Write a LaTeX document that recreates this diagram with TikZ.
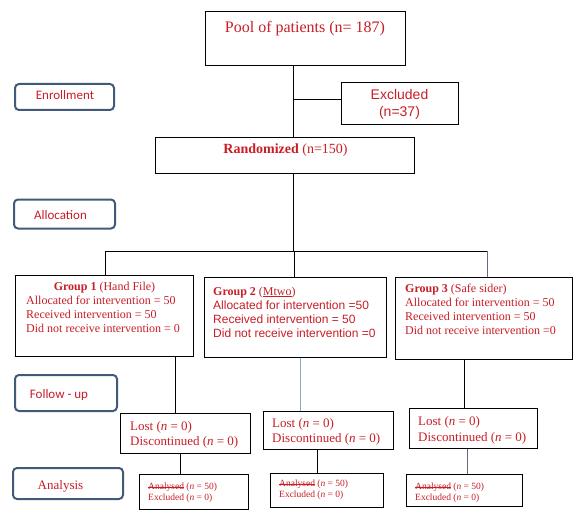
\documentclass[tikz,border=0pt]{standalone}
\usepackage{fontspec}
\setmainfont{Liberation Serif}
\setsansfont{Liberation Sans}
\newfontfamily\calibri{Carlito}
\definecolor{txtred}{RGB}{200,30,40}
\definecolor{sideblue}{RGB}{65,90,122}
\definecolor{lineblue}{RGB}{140,168,196}
\definecolor{linegray}{RGB}{95,110,125}
\newlength\mystl
\newcommand\mystrike[1]{\settowidth{\mystl}{#1}\rlap{\rule[0.27em]{\mystl}{0.5pt}}#1}
\newcommand\myunder[1]{\settowidth{\mystl}{#1}\rlap{\rule[-0.15em]{\mystl}{0.4pt}}#1}
\begin{document}
\begin{tikzpicture}[x=1pt,y=-1pt,
  box/.style={draw=black,line width=1pt,inner sep=0pt,rectangle},
  sidebox/.style={draw=sideblue,line width=2pt,rounded corners=4pt,inner sep=0pt,rectangle},
  conn/.style={draw=black,line width=1pt},
  txt/.style={text=txtred,inner sep=0pt,align=left},
  sidetxt/.style={text=txtred,inner sep=0pt,font=\calibri\fontsize{13}{15}\selectfont},
  f12/.style={font=\fontsize{12}{14}\selectfont},
  f12s/.style={font=\sffamily\fontsize{12}{14}\selectfont},
  f13/.style={font=\fontsize{13}{15}\selectfont},
  f9/.style={font=\fontsize{9.5}{11}\selectfont}]
\useasboundingbox[fill=white] (0,0) rectangle (587,519);

% side labels
\node[sidebox,minimum width=99pt,minimum height=26pt] (enr) at (64.5,97) {};
\node[sidetxt] (enrt) at (65,95) {Enrollment};
\node[sidebox,minimum width=101pt,minimum height=29pt] (alloc) at (64.5,214) {};
\node[sidetxt] (alloct) at (60.5,215) {Allocation};
\node[sidebox,minimum width=102pt,minimum height=36pt] (fol) at (66,393) {};
\node[sidetxt] (folt) at (59,395) {Follow - up};
\node[sidebox,minimum width=110pt,minimum height=31pt] (ana) at (68,483.5) {};
\node[sidetxt,font=\fontsize{13}{15}\selectfont] (anat) at (60.5,486) {Analysis};

% main boxes
\node[box,minimum width=200pt,minimum height=54pt] (pool) at (305,39) {};
\node[txt,anchor=base,font=\fontsize{16}{18}\selectfont] (poolt) at (305,32.5) {Pool of patients (n= 187)};

\node[box,minimum width=117pt,minimum height=42pt] (excl) at (399.5,104) {};
\node[txt,align=center,font=\sffamily\fontsize{14}{17}\selectfont] (exclt) at (399.5,104.5) {Excluded\\(n=37)};

\node[box,minimum width=259pt,minimum height=36pt] (rand) at (284.5,155) {};
\node[txt,anchor=base,font=\fontsize{14}{16}\selectfont] (randt) at (285.5,153.7) {\textbf{Randomized} (n=150)};

% groups
\node[box,minimum width=178pt,minimum height=81pt] (g1) at (104,315.5) {};
\node[txt,anchor=north,f12] (g1t) at (104.5,281.7) {\textbf{Group 1} (Hand File)};
\node[txt,anchor=north west,f12] (g1b) at (26,296) {Allocated for intervention = 50\\Received intervention = 50\\Did not receive intervention = 0};

\node[box,minimum width=182pt,minimum height=80pt] (g2) at (295,317) {};
\node[txt,anchor=north west,f12] (g2t) at (213,286.5) {\textbf{Group 2} (\myunder{Mtwo})};
\node[txt,anchor=north west,f12s] (g2b) at (213,300.7) {Allocated for intervention =50\\Received intervention = 50\\Did not receive intervention =0};

\node[box,minimum width=177pt,minimum height=82pt] (g3) at (483.5,318) {};
\node[txt,anchor=north west,f12] (g3t) at (405,283.5) {\textbf{Group 3} (Safe sider)};
\node[txt,anchor=north west,f12] (g3b) at (405,298) {Allocated for intervention = 50\\Received intervention = 50\\Did not receive intervention =0};

% lost boxes
\node[box,minimum width=130pt,minimum height=40pt] (lost1) at (185,433) {};
\node[txt,anchor=north west,f13] (lost1t) at (130,421.5) {Lost (\textit{n} = 0)\\Discontinued (\textit{n} = 0)};
\node[box,minimum width=130pt,minimum height=38pt] (lost2) at (328,430) {};
\node[txt,anchor=north west,f13] (lost2t) at (272,418.5) {Lost (\textit{n} = 0)\\Discontinued (\textit{n} = 0)};
\node[box,minimum width=128pt,minimum height=40pt] (lost3) at (473,428) {};
\node[txt,anchor=north west,font=\fontsize{13}{16}\selectfont] (lost3t) at (418,416.5) {Lost (\textit{n} = 0)\\Discontinued (\textit{n} = 0)};

% analysed boxes
\node[box,minimum width=109pt,minimum height=35pt] (an1) at (193.5,491.5) {};
\node[txt,anchor=north west,f9] (an1t) at (148,482.8) {\mystrike{Analysed} (\textit{n} = 50)\\Excluded (\textit{n} = 0)};
\node[box,minimum width=113pt,minimum height=34pt] (an2) at (326.5,490) {};
\node[txt,anchor=north west,f9] (an2t) at (279,479.8) {\mystrike{Analysed} (\textit{n} = 50)\\Excluded (\textit{n} = 0)};
\node[box,minimum width=116pt,minimum height=32pt] (an3) at (464,490) {};
\node[txt,anchor=north west,f9] (an3t) at (415,482.8) {\mystrike{Analysed} (\textit{n} = 50)\\Excluded (\textit{n} = 0)};

% connectors
\coordinate (xa) at (293,0);
\coordinate (exj) at (293,100);
\coordinate (split) at (293,251);
\coordinate (hl) at (105,251);
\coordinate (hm) at (294,251);
\coordinate (hr) at (487,251);
\draw[conn] (pool.south -| xa) -- (rand.north -| xa);
\draw[conn] (exj) -- (exj -| excl.west);
\draw[conn] (rand.south -| xa) -- (split);
\draw[conn] (hl) -- (hr);
\draw[conn] (hl) -- (hl |- g1.north);
\draw[conn] (hm) -- (hm |- g2.north);
\draw[conn,draw=linegray] (hr) -- (hr |- g3.north);

\coordinate (c1) at (175,0);
\coordinate (c2) at (300,0);
\coordinate (c3) at (464,0);
\draw[conn] (g1.south -| c1) -- (lost1.north -| c1);
\draw[conn,draw=lineblue] (g2.south -| c2) -- (lost2.north -| c2);
\draw[conn] (g3.south -| c3) -- (lost3.north -| c3);

\coordinate (d1) at (180,0);
\coordinate (d2) at (317,0);
\coordinate (d3) at (467,0);
\draw[conn] (lost1.south -| d1) -- (an1.north -| d1);
\draw[conn] (lost2.south -| d2) -- (an2.north -| d2);
\draw[conn,draw=linegray] (lost3.south -| d3) -- (an3.north -| d3);
\end{tikzpicture}
\end{document}
